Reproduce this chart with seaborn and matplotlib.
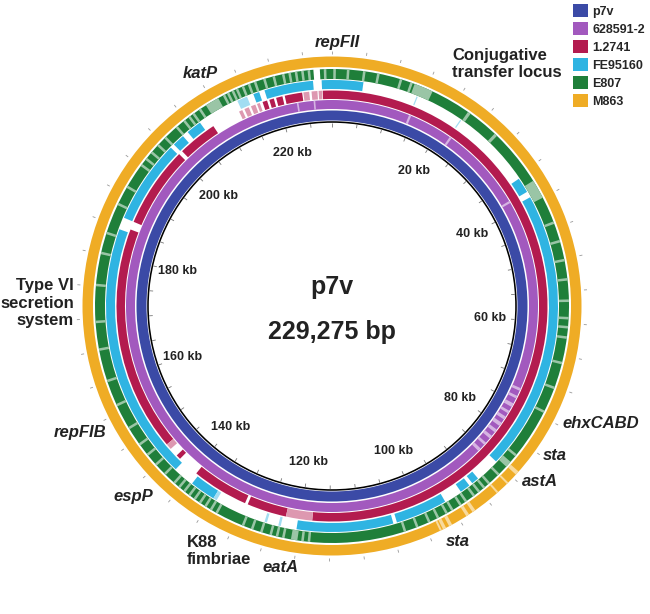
import numpy as np
import matplotlib
matplotlib.use("Agg")
import matplotlib.pyplot as plt
from matplotlib.patches import Patch
import matplotlib.colors as mcolors
import seaborn as sns

sns.set_theme(style="white")
plt.rcParams['font.family'] = ['Liberation Sans', 'DejaVu Sans']

# plasmid p7v, size in kb
plasmid_kb = 229.275
genomes = ["p7v", "628591-2", "1.2741", "FE95160", "E807", "M863"]
ring_colors = ["#3b4aa6", "#a259be", "#b31b4f", "#2fb4e2", "#1f7f3a", "#efac25"]

# blocks with hits (kb), everything else is blank
p7v_blocks = [(0, 229.275)]
s628591_blocks = [(0, 229.275)]
s12741_blocks = [(0, 118.0), (122.5, 129.3), (129.8, 139.5), (143.2, 144.0),
                 (146.5, 185.2), (186.6, 200.5), (201.2, 208.0),
                 (217.3, 218.1), (218.5, 219.3), (219.7, 220.8), (221.2, 224.2),
                 (227.7, 229.275)]
fe95160_blocks = [(0, 5.1), (35.5, 38.0), (39.0, 85.0), (89.0, 90.2), (90.8, 92.5),
                  (95.5, 104.0), (104.6, 120.4), (134.8, 139.0), (142.5, 184.6),
                  (186.6, 200.3), (201.0, 203.0), (204.0, 206.5), (216.3, 217.3),
                  (218.2, 226.2), (227.6, 229.275)]
e807_blocks = [(0, 226.4), (227.4, 229.275)]
m863_blocks = [(0, 229.275)]

# low identity parts (kb)
s628591_pale = [(14.0, 14.4), (22.2, 22.6), (37.8, 38.2), (72.3, 72.8), (73.8, 74.3),
                (75.3, 76.0), (76.8, 77.3), (78.0, 78.6), (79.3, 80.0), (80.8, 81.4),
                (82.2, 82.8), (83.8, 84.3), (85.2, 85.8), (223.0, 223.3), (226.0, 226.3)]
s12741_pale = [(118.0, 122.5), (145.5, 146.5), (213.0, 213.6), (214.0, 214.8),
               (215.2, 216.0), (216.3, 216.8), (224.4, 225.4), (225.8, 226.8),
               (227.0, 227.6)]
fe95160_pale = [(123.0, 123.4), (125.3, 125.7), (134.2, 134.8), (213.5, 215.2),
                (14.0, 14.2), (22.0, 22.2)]
e807_pale = [(0.2, 0.6), (2.3, 2.7), (4.8, 5.2), (7.0, 7.4), (10.6, 11.0), (12.3, 12.7),
             (13.0, 16.0), (22.3, 22.8), (27.6, 28.1), (37.0, 40.0), (44.0, 44.4),
             (47.0, 47.4), (50.0, 50.4), (53.0, 53.4), (56.3, 56.7), (59.0, 59.4),
             (60.4, 60.8), (62.0, 62.4), (66.0, 66.4), (70.0, 70.4), (74.0, 74.4),
             (82.0, 82.4), (83.5, 84.5), (86.0, 86.4), (88.0, 88.4), (89.0, 89.4),
             (90.0, 90.4), (91.0, 91.4), (92.5, 92.9), (93.5, 93.9), (95.0, 95.4),
             (96.0, 96.4), (97.5, 97.9), (99.0, 99.4), (101.0, 101.4), (103.0, 103.4),
             (118.0, 118.4), (119.0, 119.4), (120.0, 121.0), (122.0, 122.4),
             (123.0, 123.4), (124.0, 124.4), (125.5, 125.9), (127.0, 127.4),
             (128.5, 128.9), (133.0, 133.4), (134.0, 134.4), (135.0, 135.4),
             (136.0, 136.4), (137.0, 137.4), (138.0, 138.4), (139.0, 139.4),
             (140.0, 140.4), (141.0, 141.4), (143.0, 143.4), (145.0, 145.4),
             (147.0, 147.4), (149.0, 149.4), (152.0, 152.4), (156.0, 156.4),
             (160.0, 160.4), (165.0, 165.4), (169.3, 169.7), (175.0, 175.4),
             (180.0, 180.4), (183.2, 183.6), (188.0, 188.4), (191.0, 191.4),
             (195.0, 195.4), (196.2, 196.6), (197.5, 197.9), (199.0, 199.4),
             (200.6, 201.0), (203.0, 203.4), (204.5, 204.9), (205.5, 205.9),
             (206.3, 206.7), (207.5, 207.9), (208.8, 211.0), (211.8, 212.2),
             (212.5, 212.9), (213.3, 213.7), (214.0, 214.4), (215.0, 215.4),
             (216.0, 216.4), (217.0, 217.4), (218.5, 218.9), (220.0, 220.4),
             (221.5, 221.9), (222.5, 222.9), (223.5, 223.9), (224.5, 224.9),
             (225.5, 225.9), (228.0, 228.4)]
m863_pale = [(83.8, 84.4), (86.0, 86.3), (88.0, 88.3), (92.3, 92.8), (93.4, 93.9),
             (96.3, 96.8), (97.3, 97.8), (98.0, 98.3)]

# kb labels inside the backbone
kb_marks = [20, 40, 60, 80, 100, 120, 140, 160, 180, 200, 220]

# annotations (text, x px, y px, ha, style)
gene_labels = [("repFII", 337, 42), ("katP", 200, 73), ("ehxCABD", 601, 423),
               ("sta", 555, 456), ("astA", 540, 481), ("sta", 458, 542),
               ("eatA", 280, 568), ("espP", 133, 497), ("repFIB", 80, 433)]

ring_radii = [(185.5, 195.5), (197, 206), (207, 215.5), (217, 226), (227, 237), (239, 249.5)]
ring_blocks = [p7v_blocks, s628591_blocks, s12741_blocks, fe95160_blocks, e807_blocks, m863_blocks]
ring_pale = [[], s628591_pale, s12741_pale, fe95160_pale, e807_pale, m863_pale]


def to_theta(kb):
    return np.asarray(kb, dtype=float) / plasmid_kb * 2 * np.pi


def lighten(c, amount):
    rgb = np.array(mcolors.to_rgb(c))
    return tuple(rgb + (1 - rgb) * amount)


fig = plt.figure(figsize=(6.5, 6.14), dpi=100)
cx, cy, R = 332, 306, 260
ax = fig.add_axes([(cx - R) / 650, (614 - cy - R) / 614, 2 * R / 650, 2 * R / 614],
                  projection="polar")
ax.set_theta_zero_location("N")
ax.set_theta_direction(-1)
ax.set_ylim(0, R)
ax.set_axis_off()

palette = sns.color_palette(ring_colors)
for (r0, r1), blocks, pale, col in zip(ring_radii, ring_blocks, ring_pale, palette):
    s = to_theta([b[0] for b in blocks])
    e = to_theta([b[1] for b in blocks])
    ax.bar((s + e) / 2, r1 - r0, width=e - s, bottom=r0, color=col,
           linewidth=0, align="center")
    if pale:
        s = to_theta([b[0] for b in pale])
        e = to_theta([b[1] for b in pale])
        ax.bar((s + e) / 2, r1 - r0, width=e - s, bottom=r0,
               color=lighten(col, 0.55), linewidth=0, align="center")

# backbone
ax.bar(np.pi, 1.6, width=2 * np.pi, bottom=183.2, color="black", linewidth=0)
ticks = to_theta(np.arange(0, plasmid_kb, 5))
ax.vlines(ticks, 179.5, 183.2, color="#777777", lw=0.6)
ax.vlines(ticks, 252.5, 255.5, color="#999999", lw=0.6)

for kb in kb_marks:
    ax.text(to_theta(kb), 158, f"{kb} kb", ha="center", va="center",
            fontsize=9, fontweight="bold", color="#222222")

# overlay in pixel coordinates for labels
tx = fig.add_axes([0, 0, 1, 1])
tx.set_xlim(0, 650)
tx.set_ylim(614, 0)
tx.set_axis_off()
tx.patch.set_alpha(0)

tx.text(332, 287, "p7v", ha="center", va="center", fontsize=18, fontweight="bold", color="#222222")
tx.text(332, 332, "229,275 bp", ha="center", va="center", fontsize=18, fontweight="bold", color="#222222")

for name, x, y in gene_labels:
    tx.text(x, y, name, ha="center", va="center", fontsize=12, fontweight="bold",
            fontstyle="italic", color="#222222")

tx.text(452, 64, "Conjugative\ntransfer locus", ha="left", va="center", fontsize=12,
        fontweight="bold", color="#222222", linespacing=1.2)
tx.text(74, 303, "Type VI\nsecretion\nsystem", ha="right", va="center", fontsize=12,
        fontweight="bold", color="#222222", linespacing=1.2, multialignment="right")
tx.text(187, 551, "K88\nfimbriae", ha="left", va="center", fontsize=12,
        fontweight="bold", color="#222222", linespacing=1.2)

handles = [Patch(facecolor=c, edgecolor="none", label=g) for g, c in zip(genomes, palette)]
tx.legend(handles=handles, loc="upper left", bbox_to_anchor=(573 / 650, 1 - 4 / 614),
          bbox_transform=fig.transFigure, frameon=False,
          prop={"weight": "bold", "size": 9}, handlelength=1.2, handleheight=1.2,
          handletextpad=0.35, labelspacing=0.35, borderpad=0, borderaxespad=0)

fig.savefig("out.png", dpi=100, facecolor="white")
